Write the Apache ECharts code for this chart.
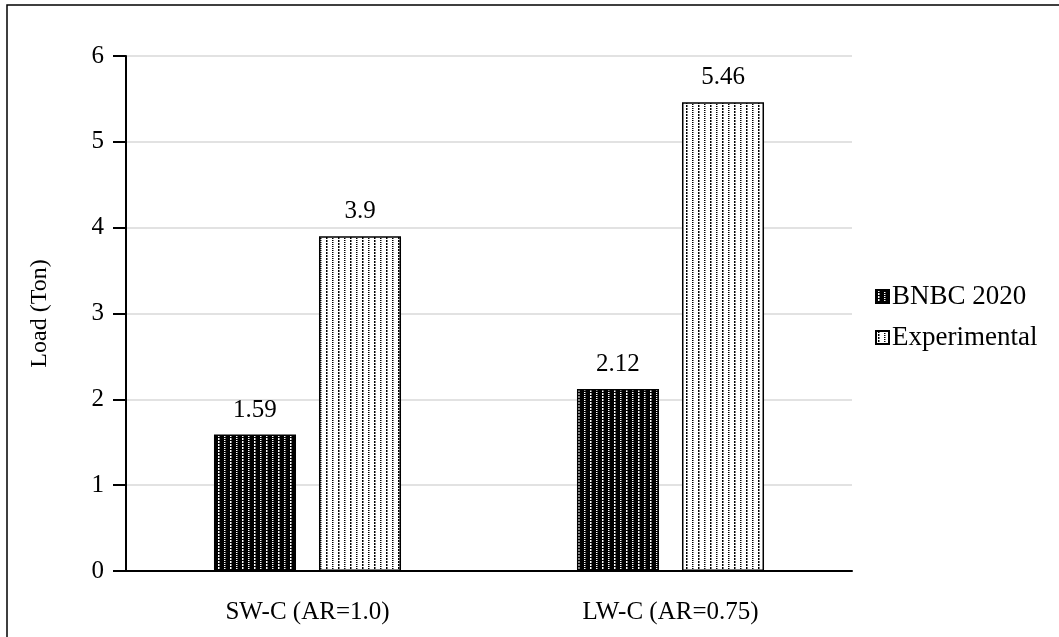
<!DOCTYPE html>
<html>
<head>
<meta charset="utf-8">
<script src="https://cdn.jsdelivr.net/npm/echarts@6/dist/echarts.min.js"></script>
<style>
  html, body { margin: 0; padding: 0; background: #fff; }
  #chart { width: 1059px; height: 637px; }
</style>
</head>
<body>
<div id="chart"></div>
<script>
// Chart data
const categories = ['SW-C (AR=1.0)', 'LW-C (AR=0.75)'];
const seriesNames = ['BNBC 2020', 'Experimental'];
const bnbcValues = [1.59, 2.12];
const experimentalValues = [3.9, 5.46];
const yTicks = [0, 1, 2, 3, 4, 5, 6];

const FONT = '"Liberation Serif", "DejaVu Serif", serif';

// Dotted vertical-line fill patterns: alternating dash-dot and dot columns
function makePattern(bg, fg) {
  const c = document.createElement('canvas');
  c.width = 12; c.height = 6;
  const g = c.getContext('2d');
  g.fillStyle = bg;
  g.fillRect(0, 0, 12, 6);
  g.fillStyle = fg;
  // dash-dot column
  g.fillRect(2, 0, 1, 2);
  g.fillRect(2, 3, 1, 2);
  // dotted column
  g.fillRect(8, 0, 1, 1);
  g.fillRect(8, 2, 1, 1);
  g.fillRect(8, 4, 1, 1);
  // faint companion pixels to thicken the lines slightly
  g.globalAlpha = 0.5;
  g.fillRect(3, 0, 1, 2);
  g.fillRect(3, 3, 1, 2);
  g.fillRect(9, 0, 1, 1);
  g.fillRect(9, 2, 1, 1);
  g.fillRect(9, 4, 1, 1);
  return c;
}
const darkFill = { image: makePattern('#000000', '#ffffff'), repeat: 'repeat' };
const lightFill = { image: makePattern('#ffffff', '#000000'), repeat: 'repeat' };

const chart = echarts.init(document.getElementById('chart'), null, { renderer: 'canvas' });

const labelStyle = {
  show: true,
  position: 'top',
  distance: 12,
  fontFamily: FONT,
  fontSize: 25,
  color: '#000'
};

chart.setOption({
  animation: false,
  backgroundColor: '#fff',
  textStyle: { fontFamily: FONT },
  graphic: [{
    type: 'rect',
    shape: { x: 7, y: 5, width: 1080, height: 660 },
    style: { fill: 'none', stroke: '#000', lineWidth: 1.5 },
    silent: true,
    z: 100
  }],
  grid: { left: 126, right: 207, top: 56, bottom: 66, containLabel: false },
  legend: {
    orient: 'vertical',
    left: 870,
    top: 278,
    itemWidth: 13,
    itemHeight: 13,
    itemGap: 14,
    icon: 'rect',
    textStyle: { fontFamily: FONT, fontSize: 27, color: '#000', padding: [0, 0, 0, -2] },
    data: seriesNames
  },
  xAxis: {
    type: 'category',
    data: categories,
    axisLine: { show: true, lineStyle: { color: '#000', width: 2 } },
    axisTick: { show: false },
    axisLabel: { fontFamily: FONT, fontSize: 25, color: '#000', margin: 29 }
  },
  yAxis: {
    type: 'value',
    min: yTicks[0],
    max: yTicks[yTicks.length - 1],
    interval: 1,
    name: 'Load (Ton)',
    nameLocation: 'middle',
    nameGap: 74,
    nameTextStyle: { fontFamily: FONT, fontSize: 24, color: '#000' },
    axisLine: { show: true, lineStyle: { color: '#000', width: 2 } },
    axisTick: { show: true, length: 13, lineStyle: { color: '#000', width: 2 } },
    axisLabel: { fontFamily: FONT, fontSize: 25, color: '#000', margin: 22 },
    splitLine: { show: true, lineStyle: { color: '#d9d9d9', width: 1.5 } }
  },
  series: [
    {
      name: seriesNames[0],
      type: 'bar',
      data: bnbcValues,
      barWidth: '22.6%',
      barGap: '28%',
      itemStyle: { color: darkFill, borderColor: '#000', borderWidth: 1.5 },
      label: labelStyle
    },
    {
      name: seriesNames[1],
      type: 'bar',
      data: experimentalValues,
      barWidth: '22.6%',
      barGap: '28%',
      itemStyle: { color: lightFill, borderColor: '#000', borderWidth: 1.5 },
      label: labelStyle
    }
  ]
});
</script>
</body>
</html>
